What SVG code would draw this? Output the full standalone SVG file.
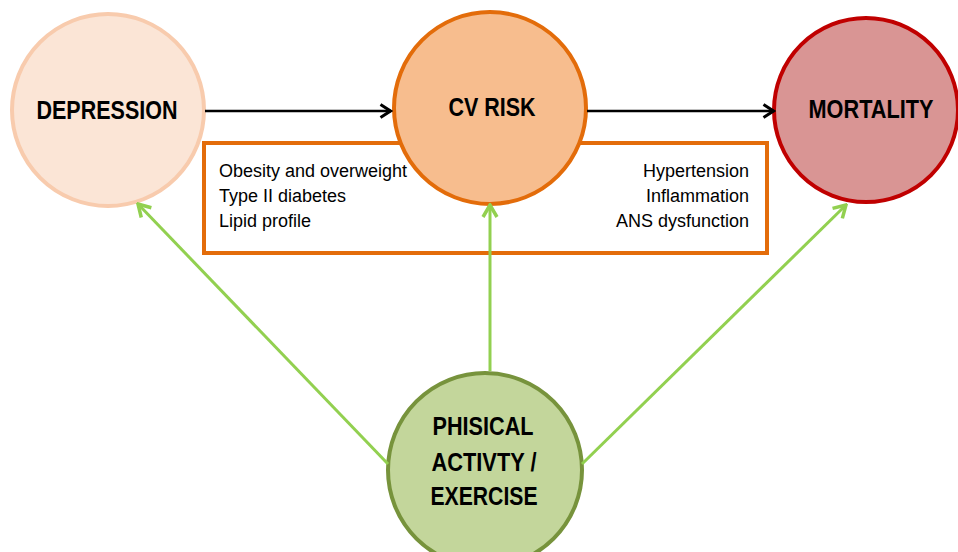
<svg xmlns="http://www.w3.org/2000/svg" width="958" height="552" viewBox="0 0 958 552">
<defs>
<style>
.lbl{font-family:"Liberation Sans",Arial,sans-serif;font-weight:bold;font-size:25px;fill:#000;text-anchor:middle}
.txt{font-family:"Liberation Sans",Arial,sans-serif;font-size:18px;fill:#000}
.blk{stroke:#000;stroke-width:2.5;fill:none}
.grn{stroke:#92d050;stroke-width:3;fill:none}
</style>
<marker id="ab" viewBox="0 0 16 16" refX="14.5" refY="8" markerWidth="16" markerHeight="16" markerUnits="userSpaceOnUse" orient="auto">
<path d="M4,1.5 L14,8 L4,14.5" fill="none" stroke="#000" stroke-width="3"/>
</marker>
<marker id="ag" viewBox="0 0 18 18" refX="16" refY="9" markerWidth="18" markerHeight="18" markerUnits="userSpaceOnUse" orient="auto">
<path d="M4,2 L16,9 L4,16" fill="none" stroke="#92d050" stroke-width="3.5"/>
</marker>
</defs>
<rect width="958" height="552" fill="#fff"/>
<g id="risk-box">
<rect x="204" y="143" width="563" height="110" fill="#fff" stroke="#e36c0a" stroke-width="4"/>
<text class="txt" x="219" y="177">Obesity and overweight</text>
<text class="txt" x="219" y="202">Type II diabetes</text>
<text class="txt" x="219" y="227">Lipid profile</text>
<text class="txt" x="749" y="177" text-anchor="end">Hypertension</text>
<text class="txt" x="749" y="202" text-anchor="end">Inflammation</text>
<text class="txt" x="749" y="227" text-anchor="end">ANS dysfunction</text>
</g>
<g id="depression">
<circle cx="108" cy="110" r="96" fill="#fbe5d6" stroke="#f8cbad" stroke-width="4"/>
<text class="lbl" x="107" y="119" textLength="141" lengthAdjust="spacingAndGlyphs">DEPRESSION</text>
</g>
<g id="cv-risk">
<circle cx="490" cy="108" r="96" fill="#f7bd8e" stroke="#e36c0a" stroke-width="4"/>
<text class="lbl" x="492" y="116" textLength="87" lengthAdjust="spacingAndGlyphs">CV RISK</text>
</g>
<g id="mortality">
<circle cx="866" cy="110" r="92" fill="#d99594" stroke="#c00000" stroke-width="4"/>
<text class="lbl" x="871" y="118" textLength="125" lengthAdjust="spacingAndGlyphs">MORTALITY</text>
</g>
<g id="physical">
<circle cx="485" cy="470" r="97" fill="#c3d69b" stroke="#77933c" stroke-width="4"/>
<text class="lbl" x="483" y="435" textLength="101" lengthAdjust="spacingAndGlyphs">PHISICAL</text>
<text class="lbl" x="484" y="471" textLength="105" lengthAdjust="spacingAndGlyphs">ACTIVTY /</text>
<text class="lbl" x="484" y="505" textLength="107" lengthAdjust="spacingAndGlyphs">EXERCISE</text>
</g>
<g id="connectors">
<line class="blk" x1="205" y1="111" x2="391" y2="111" marker-end="url(#ab)"/>
<line class="blk" x1="587" y1="111" x2="774" y2="111" marker-end="url(#ab)"/>
<line class="grn" x1="388" y1="464" x2="138" y2="204" marker-end="url(#ag)"/>
<line class="grn" x1="490" y1="371" x2="490" y2="205" marker-end="url(#ag)"/>
<line class="grn" x1="582" y1="464" x2="846" y2="205" marker-end="url(#ag)"/>
</g>
</svg>
